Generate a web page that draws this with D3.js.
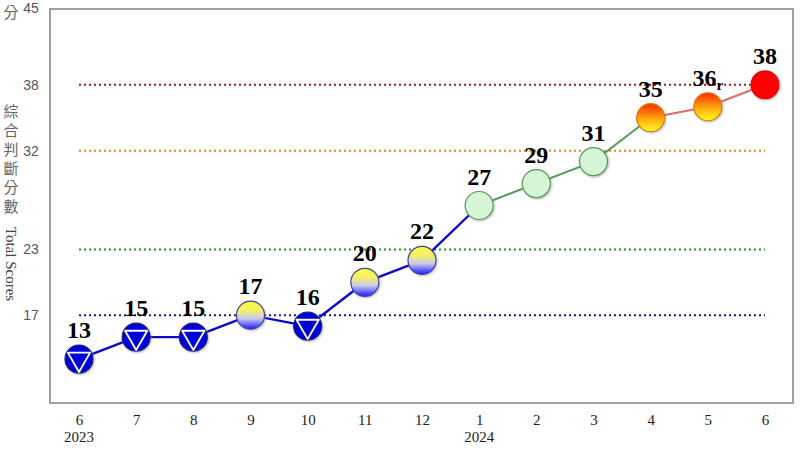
<!DOCTYPE html>
<html>
<head>
<meta charset="utf-8">
<script src="https://cdn.jsdelivr.net/npm/d3@7"></script>
<style>
  body { margin: 0; background: #fff; }
  svg { display: block; }
</style>
</head>
<body>
<script>
const months = ["6", "7", "8", "9", "10", "11", "12", "1", "2", "3", "4", "5", "6"];
const years = ["2023", "", "", "", "", "", "", "2024", "", "", "", "", ""];
const scores = [13, 15, 15, 17, 16, 20, 22, 27, 29, 31, 35, 36, 38];
const signals = ["blue", "blue", "blue", "yb", "blue", "yb", "yb", "green", "green", "green", "yr", "yr", "red"];
const revised = ["", "", "", "", "", "", "", "", "", "", "", "r", ""];
const yTicks = [17, 23, 32, 38, 45];
const thresholds = [17, 23, 32, 38];
const thresholdColors = ["#1a1a8c", "#1f9a1f", "#e08a1a", "#a01a1a"];

main();

function main() {
  const width = 800;
  const height = 450;

  const svg = d3.select("body").append("svg")
    .attr("width", width)
    .attr("height", height);

  const box = { left: 50, top: 9, right: 793, bottom: 403 };

  const x = d3.scalePoint()
    .domain(d3.range(months.length))
    .range([79, 765]);

  const y = d3.scaleLinear()
    .domain([9, 45])
    .range([box.bottom, 8]);

  const defs = svg.append("defs");
  const yb = defs.append("linearGradient").attr("id", "yb")
    .attr("x1", 0).attr("y1", 0).attr("x2", 0).attr("y2", 1);
  yb.append("stop").attr("offset", "0%").attr("stop-color", "#ffff30");
  yb.append("stop").attr("offset", "35%").attr("stop-color", "#f2ee70");
  yb.append("stop").attr("offset", "62%").attr("stop-color", "#c8c8ee");
  yb.append("stop").attr("offset", "100%").attr("stop-color", "#1a1aff");
  const yr = defs.append("linearGradient").attr("id", "yr")
    .attr("x1", 0).attr("y1", 0).attr("x2", 0).attr("y2", 1);
  yr.append("stop").attr("offset", "0%").attr("stop-color", "#ff2a00");
  yr.append("stop").attr("offset", "55%").attr("stop-color", "#ffaa10");
  yr.append("stop").attr("offset", "100%").attr("stop-color", "#ffff20");
  const shadow = defs.append("filter").attr("id", "shadow")
    .attr("x", "-30%").attr("y", "-30%").attr("width", "160%").attr("height", "160%");
  shadow.append("feDropShadow").attr("dx", 1).attr("dy", 1)
    .attr("stdDeviation", 1.2).attr("flood-color", "#888").attr("flood-opacity", 0.6);

  // plot frame
  svg.append("rect")
    .attr("x", box.left).attr("y", box.top)
    .attr("width", box.right - box.left).attr("height", box.bottom - box.top)
    .attr("fill", "none")
    .attr("stroke", "#a0a0a0")
    .attr("stroke-width", 2);

  // threshold lines
  svg.selectAll(".thr").data(thresholds).enter().append("line")
    .attr("x1", x(0)).attr("x2", x(months.length - 1))
    .attr("y1", d => y(d)).attr("y2", d => y(d))
    .attr("stroke", (d, i) => thresholdColors[i])
    .attr("stroke-width", 2)
    .attr("stroke-dasharray", "2,3");

  // y axis
  const yAxis = svg.append("g")
    .attr("transform", "translate(31,0)")
    .call(d3.axisLeft(y).tickValues(yTicks).tickSize(0).tickPadding(0));
  yAxis.select(".domain").remove();
  yAxis.selectAll("text")
    .attr("text-anchor", "middle")
    .attr("font-family", "Liberation Sans, Arial, sans-serif")
    .attr("font-size", 14)
    .attr("fill", "#555");

  // x axis
  const xAxis = svg.append("g")
    .attr("transform", `translate(0,${box.bottom + 8})`)
    .call(d3.axisBottom(x).tickSize(0).tickFormat(i => months[i]));
  xAxis.select(".domain").remove();
  xAxis.selectAll("text")
    .attr("font-family", "Liberation Serif, Times New Roman, serif")
    .attr("font-size", 15)
    .attr("fill", "#222");
  svg.selectAll(".year").data(years).enter().append("text")
    .attr("x", (d, i) => x(i)).attr("y", 442)
    .attr("text-anchor", "middle")
    .attr("font-family", "Liberation Serif, Times New Roman, serif")
    .attr("font-size", 15)
    .attr("fill", "#222")
    .text(d => d);

  // axis titles
  const gray = "#666";
  svg.append("text").attr("x", 11).attr("y", 18)
    .attr("text-anchor", "middle")
    .attr("font-family", "Noto Sans CJK TC, sans-serif")
    .attr("font-size", 15).attr("fill", gray).text("分");
  const zh = Array.from("綜合判斷分數");
  svg.selectAll(".zh").data(zh).enter().append("text")
    .attr("x", 11).attr("y", (d, i) => 117 + i * 19)
    .attr("text-anchor", "middle")
    .attr("font-family", "Noto Sans CJK TC, sans-serif")
    .attr("font-size", 15).attr("fill", gray).text(d => d);
  svg.append("text")
    .attr("transform", "translate(6,264) rotate(90)")
    .attr("text-anchor", "middle")
    .attr("font-family", "Liberation Serif, Times New Roman, serif")
    .attr("font-size", 15).attr("fill", "#444").text("Total Scores");

  // line segments coloured by the starting signal
  const segColor = s => (s === "blue" || s === "yb") ? "#0a0ac8"
    : s === "green" ? "#5a9a5a" : "#e06a6a";
  svg.selectAll(".seg").data(d3.range(scores.length - 1)).enter().append("line")
    .attr("x1", i => x(i)).attr("y1", i => y(scores[i]))
    .attr("x2", i => x(i + 1)).attr("y2", i => y(scores[i + 1]))
    .attr("stroke", i => segColor(signals[i]))
    .attr("stroke-width", i => segColor(signals[i]) === "#0a0ac8" ? 2.4 : 2);

  // markers
  const r = 14;
  const fills = { blue: "#0000d8", yb: "url(#yb)", green: "#d6f5d6", yr: "url(#yr)", red: "#ff0000" };
  const strokes = { blue: "#1a1a80", yb: "#4040a0", green: "#5a9a5a", yr: "#d08000", red: "#e00000" };
  const pts = svg.selectAll(".pt").data(scores).enter().append("g")
    .attr("transform", (d, i) => `translate(${x(i)},${y(d)})`);
  pts.append("circle")
    .attr("r", r)
    .attr("fill", (d, i) => fills[signals[i]])
    .attr("stroke", (d, i) => strokes[signals[i]])
    .attr("stroke-width", 1.2)
    .attr("filter", "url(#shadow)");
  const t = r * 0.92;
  pts.filter((d, i) => signals[i] === "blue").append("path")
    .attr("d", `M${-t * 0.866},${-t * 0.5} L${t * 0.866},${-t * 0.5} L0,${t} Z`)
    .attr("fill", "none")
    .attr("stroke", "#fff")
    .attr("stroke-width", 1.8)
    .attr("stroke-linejoin", "round");

  // value labels
  const lbl = svg.selectAll(".lbl").data(scores).enter().append("text")
    .attr("x", (d, i) => x(i)).attr("y", d => y(d) - 21)
    .attr("text-anchor", "middle")
    .attr("font-family", "Liberation Serif, Times New Roman, serif")
    .attr("font-weight", "bold")
    .attr("font-size", 24)
    .attr("fill", "#000");
  lbl.append("tspan").text(d => d);
  lbl.filter((d, i) => revised[i]).append("tspan")
    .attr("font-size", 15).attr("dy", 4)
    .text((d, i) => revised[scores.indexOf(d)]);
}
</script>
</body>
</html>
